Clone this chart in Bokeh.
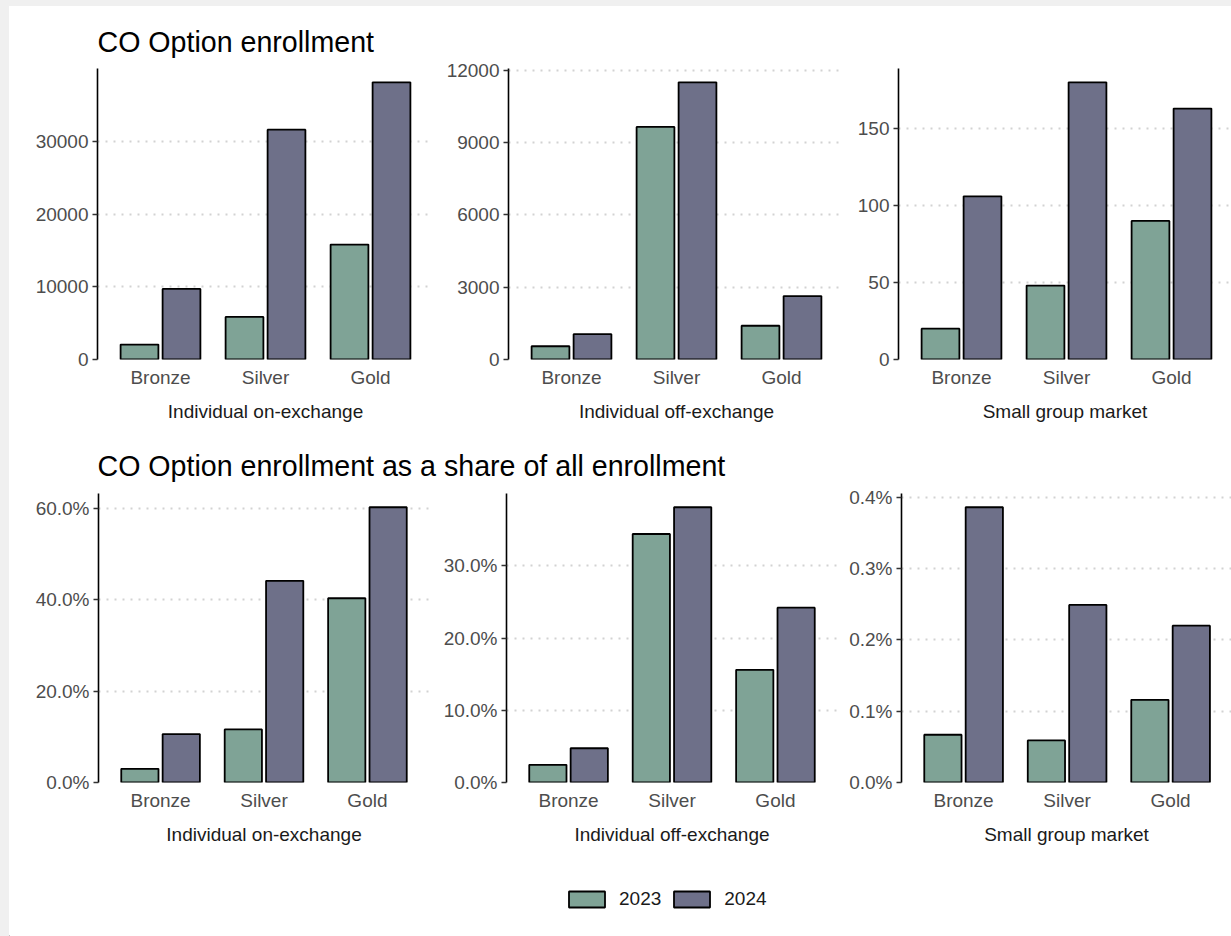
from bokeh.plotting import figure
from bokeh.models import (ColumnDataSource, Range1d, FixedTicker, NumeralTickFormatter,
                          Label, Legend, LegendItem)
from bokeh.layouts import column, row
from bokeh.transform import dodge
from bokeh.embed import file_html
from bokeh.resources import INLINE

# ---------------- data ----------------
categories = ["Bronze", "Silver", "Gold"]
years = ["2023", "2024"]
markets = ["Individual on-exchange", "Individual off-exchange", "Small group market"]

title_counts = "CO Option enrollment"
title_shares = "CO Option enrollment as a share of all enrollment"

onex_count_2023 = [2050, 5850, 15800]
onex_count_2024 = [9700, 31600, 38100]
offex_count_2023 = [550, 9650, 1400]
offex_count_2024 = [1050, 11500, 2630]
sg_count_2023 = [20, 48, 90]
sg_count_2024 = [106, 180, 163]

onex_share_2023 = [0.030, 0.116, 0.403]
onex_share_2024 = [0.106, 0.441, 0.602]
offex_share_2023 = [0.0244, 0.344, 0.156]
offex_share_2024 = [0.0474, 0.381, 0.242]
sg_share_2023 = [0.00067, 0.00059, 0.00116]
sg_share_2024 = [0.00386, 0.00249, 0.00220]

count_ticks = [[0, 10000, 20000, 30000], [0, 3000, 6000, 9000, 12000], [0, 50, 100, 150]]
share_ticks = [[0, 0.2, 0.4, 0.6], [0, 0.1, 0.2, 0.3], [0, 0.001, 0.002, 0.003, 0.004]]

# ---------------- style ----------------
COLORS = ["#7FA396", "#6E7089"]
FONT = "Liberation Sans"
TICK_COLOR = "#4d4d4d"
TEXT_COLOR = "#1a1a1a"
BG = "white"
OUTLINE_W = 1.8


def panel(market, v23, v24, ticks, fmt, fw, fh, x_end, left, right, top, bottom):
    pos = list(range(1, len(categories) + 1))
    src = ColumnDataSource(dict(x=pos, cat=categories, y23=v23, y24=v24))
    ymax = max(max(v23), max(v24)) * 1.05
    p = figure(frame_width=fw, frame_height=fh,
               min_border_left=left, min_border_right=right,
               min_border_top=top, min_border_bottom=bottom,
               x_range=Range1d(0.4, x_end), y_range=Range1d(0, ymax),
               output_backend="svg", toolbar_location=None, tools="",
               background_fill_color=BG, border_fill_color=BG)
    p.outline_line_color = None
    p.vbar(x=dodge("x", -0.2), top="y23", bottom=0, width=0.36, source=src,
           fill_color=COLORS[0], line_color="black", line_width=OUTLINE_W)
    p.vbar(x=dodge("x", 0.2), top="y24", bottom=0, width=0.36, source=src,
           fill_color=COLORS[1], line_color="black", line_width=OUTLINE_W)

    p.xgrid.grid_line_color = None
    p.ygrid.grid_line_color = "#d2d2d2"
    p.ygrid.grid_line_width = 2
    p.ygrid.grid_line_dash = "2 6"
    p.ygrid.ticker = FixedTicker(ticks=ticks)

    xa = p.xaxis[0]
    xa.ticker = FixedTicker(ticks=pos)
    xa.major_label_overrides = {i: c for i, c in zip(pos, categories)}
    xa.axis_line_color = None
    xa.major_tick_line_color = None
    xa.minor_tick_line_color = None
    xa.major_tick_out = 0
    xa.major_tick_in = 0
    xa.major_label_standoff = 7
    xa.major_label_text_font = FONT
    xa.major_label_text_font_size = "19px"
    xa.major_label_text_color = TICK_COLOR
    xa.axis_label = market
    xa.axis_label_standoff = 10
    xa.axis_label_text_font = FONT
    xa.axis_label_text_font_size = "19px"
    xa.axis_label_text_font_style = "normal"
    xa.axis_label_text_color = TEXT_COLOR

    ya = p.yaxis[0]
    ya.ticker = FixedTicker(ticks=ticks)
    ya.formatter = NumeralTickFormatter(format=fmt)
    ya.axis_line_color = "black"
    ya.axis_line_width = 1.6
    ya.major_tick_line_color = "#333333"
    ya.major_tick_line_width = 1.6
    ya.major_tick_out = 5
    ya.major_tick_in = 0
    ya.minor_tick_line_color = None
    ya.major_label_standoff = 4
    ya.major_label_text_font = FONT
    ya.major_label_text_font_size = "19px"
    ya.major_label_text_color = TICK_COLOR
    return p


def strip(h):
    p = figure(width=1222, height=h, x_range=Range1d(0, 1222), y_range=Range1d(0, h),
               min_border=0, output_backend="svg", toolbar_location=None, tools="",
               x_axis_location=None, y_axis_location=None,
               background_fill_color=BG, border_fill_color=BG)
    p.outline_line_color = None
    p.grid.grid_line_color = None
    return p


def title_strip(text, h, y_center_from_top):
    p = strip(h)
    p.add_layout(Label(x=88, y=h - y_center_from_top, text=text, text_font=FONT,
                       text_font_size="28.6px", text_color="black", text_baseline="middle"))
    return p


# ---------------- top row (counts) ----------------
p1 = panel(markets[0], onex_count_2023, onex_count_2024, count_ticks[0], "0",
           336, 291, 3.6, 88, 10, 8, 81)
p2 = panel(markets[1], offex_count_2023, offex_count_2024, count_ticks[1], "0",
           336, 291, 3.6, 65, 4, 8, 81)
p3 = panel(markets[2], sg_count_2023, sg_count_2024, count_ticks[2], "0",
           333, 291, 0.4 + 333 / 105, 50, 0, 8, 81)

# ---------------- bottom row (shares) ----------------
p4 = panel(markets[0], onex_share_2023, onex_share_2024, share_ticks[0], "0.0%",
           331, 289, 3.6, 89, 10, 8, 78)
p5 = panel(markets[1], offex_share_2023, offex_share_2024, share_ticks[1], "0.0%",
           331, 289, 3.6, 67, 4, 8, 78)
p6 = panel(markets[2], sg_share_2023, sg_share_2024, share_ticks[2], "0.0%",
           330, 289, 0.4 + 330 / 103.5, 60, 0, 8, 78)

t1 = title_strip(title_counts, 54, 35)
t2 = title_strip(title_shares, 45, 25)

# ---------------- legend strip ----------------
LG_H = 76
lg = strip(LG_H)
items = []
for yr, col in zip(years, COLORS):
    # legend-key renderer: a zero-height bar kept outside the visible strip
    key_src = ColumnDataSource(dict(x=[-50], top=[0]))
    r = lg.vbar(x="x", top="top", bottom=0, width=1, source=key_src,
                fill_color=col, line_color="black", line_width=OUTLINE_W)
    items.append(LegendItem(label=yr, renderers=[r]))
legend = Legend(items=items, orientation="horizontal", location=(555, 26),
                glyph_width=45, glyph_height=20, label_standoff=10, spacing=8,
                padding=0, margin=0, border_line_color=None, background_fill_alpha=0,
                label_text_font=FONT, label_text_font_size="19px",
                label_text_color=TEXT_COLOR, label_height=20)
lg.add_layout(legend)

layout = column(t1, row(p1, p2, p3), t2, row(p4, p5, p6), lg)

html = file_html(layout, INLINE, title="CO Option enrollment")
html = html.replace("</head>",
                    "<style>html,body{margin:0;padding:0;background:#ffffff;overflow:hidden}"
                    "body{border-top:6px solid #f0f0f0;border-left:9px solid #f0f0f0;}</style></head>", 1)
open("out.html", "w").write(html)
